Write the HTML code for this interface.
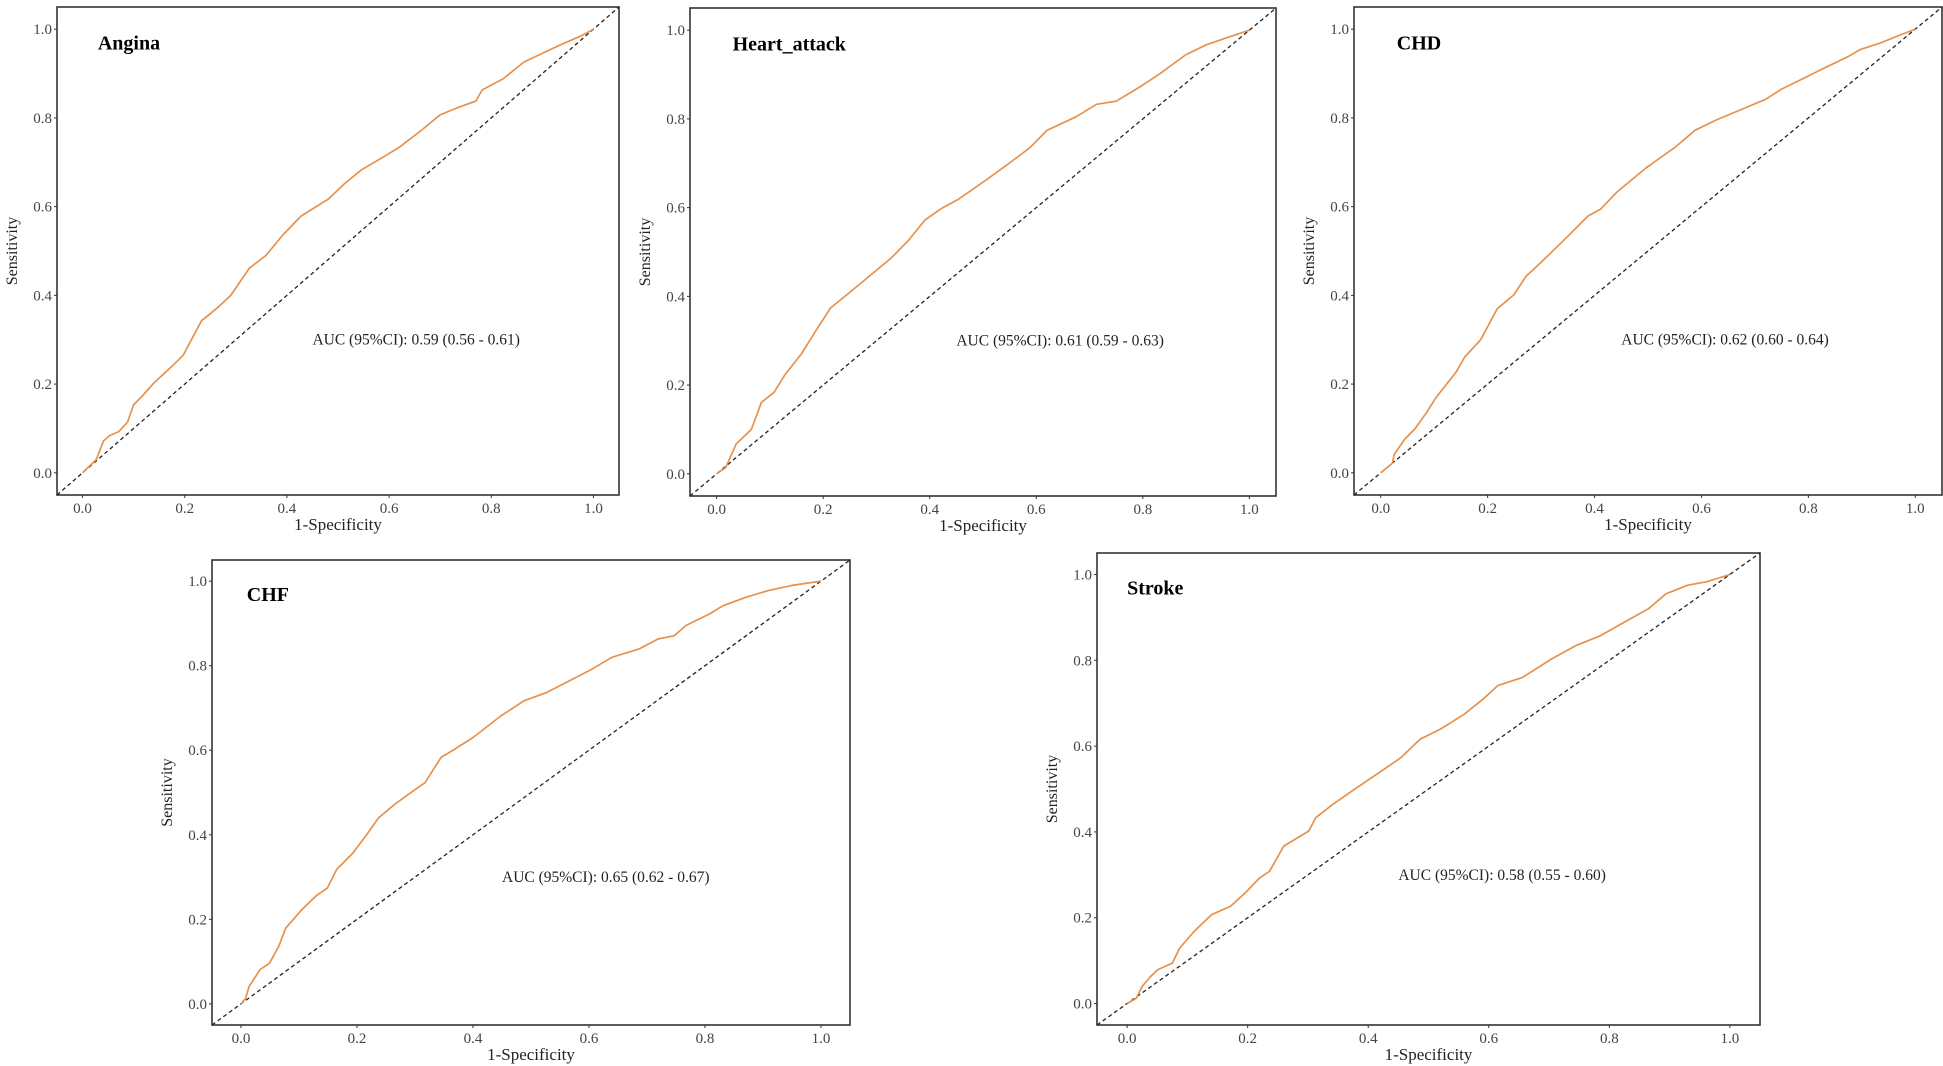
<!DOCTYPE html>
<html><head><meta charset="utf-8">
<style>
html,body{margin:0;padding:0;background:#fff;}
svg{display:block;}
text{font-family:"Liberation Serif",serif;}
</style></head>
<body>
<svg id="fig" width="1943" height="1066" viewBox="0 0 1943 1066" xmlns="http://www.w3.org/2000/svg"></svg>
<script>
// ---- data arrays ----
const anginaFpr = [0,0.027,0.041,0.053,0.071,0.088,0.1,0.116,0.14,0.173,0.197,0.213,0.233,0.262,0.29,0.327,0.359,0.392,0.428,0.481,0.513,0.546,0.586,0.619,0.659,0.7,0.732,0.77,0.782,0.823,0.864,0.895,0.936,0.976,1];
const anginaTpr = [0,0.03,0.072,0.084,0.093,0.114,0.153,0.172,0.203,0.238,0.265,0.3,0.343,0.37,0.4,0.462,0.49,0.536,0.579,0.617,0.652,0.683,0.71,0.733,0.768,0.807,0.822,0.838,0.863,0.888,0.926,0.943,0.965,0.985,1];
const heartFpr = [0,0.017,0.037,0.065,0.084,0.108,0.128,0.159,0.187,0.214,0.25,0.289,0.328,0.36,0.391,0.423,0.454,0.509,0.549,0.588,0.62,0.675,0.713,0.75,0.793,0.832,0.88,0.919,0.958,1];
const heartTpr = [0,0.014,0.068,0.1,0.161,0.184,0.223,0.27,0.324,0.374,0.409,0.448,0.487,0.526,0.572,0.599,0.619,0.665,0.7,0.735,0.774,0.805,0.833,0.84,0.871,0.902,0.944,0.967,0.983,1];
const chdFpr = [0,0.022,0.025,0.045,0.064,0.087,0.103,0.141,0.157,0.187,0.218,0.249,0.272,0.303,0.349,0.388,0.411,0.442,0.496,0.55,0.588,0.627,0.673,0.72,0.75,0.789,0.827,0.874,0.897,0.935,0.974,1];
const chdTpr = [0,0.022,0.041,0.076,0.099,0.138,0.169,0.227,0.261,0.3,0.37,0.401,0.443,0.478,0.532,0.579,0.594,0.633,0.687,0.733,0.772,0.795,0.818,0.842,0.865,0.888,0.911,0.938,0.954,0.969,0.988,1];
const chfFpr = [0,0.008,0.014,0.033,0.049,0.065,0.077,0.105,0.129,0.149,0.165,0.193,0.217,0.237,0.265,0.297,0.317,0.345,0.368,0.4,0.448,0.488,0.528,0.56,0.6,0.64,0.687,0.719,0.747,0.767,0.807,0.831,0.871,0.91,0.95,1];
const chfTpr = [0,0.013,0.041,0.081,0.096,0.136,0.179,0.223,0.255,0.274,0.318,0.357,0.401,0.44,0.472,0.504,0.523,0.583,0.602,0.63,0.681,0.717,0.737,0.76,0.788,0.82,0.84,0.863,0.871,0.895,0.922,0.942,0.962,0.978,0.99,1];
const strokeFpr = [0,0.015,0.025,0.039,0.051,0.075,0.087,0.111,0.14,0.172,0.196,0.22,0.236,0.26,0.301,0.313,0.341,0.381,0.422,0.454,0.486,0.519,0.559,0.591,0.615,0.656,0.704,0.744,0.785,0.825,0.865,0.894,0.93,0.962,1];
const strokeTpr = [0,0.012,0.04,0.063,0.079,0.094,0.129,0.168,0.207,0.227,0.258,0.293,0.308,0.367,0.402,0.433,0.464,0.503,0.542,0.573,0.616,0.639,0.674,0.71,0.741,0.76,0.803,0.834,0.857,0.889,0.92,0.955,0.975,0.983,1];
const panelTitles = ["Angina","Heart_attack","CHD","CHF","Stroke"];
const aucLabels = ["AUC (95%CI): 0.59 (0.56 - 0.61)","AUC (95%CI): 0.61 (0.59 - 0.63)","AUC (95%CI): 0.62 (0.60 - 0.64)","AUC (95%CI): 0.65 (0.62 - 0.67)","AUC (95%CI): 0.58 (0.55 - 0.60)"];
const tickValues = [0,0.2,0.4,0.6,0.8,1.0];
const tickLabels = ["0.0","0.2","0.4","0.6","0.8","1.0"];

const NS = "http://www.w3.org/2000/svg";
const svg = document.getElementById('fig');
function mk(tag, attrs, parent){
  const e = document.createElementNS(NS, tag);
  for (const k in attrs) e.setAttribute(k, attrs[k]);
  (parent||svg).appendChild(e);
  return e;
}
// layout (frame boxes)
const frames = [
  {l:57,r:619,t:7,b:495, tx:0.03, ty:0.97},
  {l:690,r:1276,t:8,b:496, tx:0.03, ty:0.97},
  {l:1354,r:1942,t:7,b:495, tx:0.03, ty:0.97},
  {l:212,r:850,t:560,b:1025, tx:0.01, ty:0.97},
  {l:1097,r:1760,t:553,b:1025, tx:0.0, ty:0.97}
];
const series = [[anginaFpr,anginaTpr],[heartFpr,heartTpr],[chdFpr,chdTpr],[chfFpr,chfTpr],[strokeFpr,strokeTpr]];
const slugs = ["angina","heart-attack","chd","chf","stroke"];

frames.forEach((f,i)=>{
  const g = mk('g',{});
  
  
  const sx = v => f.l + (v + 0.05) / 1.1 * (f.r - f.l);
  const sy = v => f.b - (v + 0.05) / 1.1 * (f.b - f.t);
  // frame
  const fr = mk('rect',{x:f.l,y:f.t,width:f.r-f.l,height:f.b-f.t,fill:'none',stroke:'#333',"stroke-width":1.6},g);
  
  
  // diagonal
  const dg = mk('line',{x1:sx(-0.05),y1:sy(-0.05),x2:sx(1.05),y2:sy(1.05),stroke:'#222',"stroke-width":1.3,"stroke-dasharray":"4 3"},g);
  
  
  // ticks
  tickValues.forEach((v,k)=>{
    mk('line',{x1:sx(v),y1:f.b,x2:sx(v),y2:f.b+3,stroke:'#333',"stroke-width":1},g);
    mk('line',{x1:f.l-3,y1:sy(v),x2:f.l,y2:sy(v),stroke:'#333',"stroke-width":1},g);
    const xt = mk('text',{x:sx(v),y:f.b+18,"text-anchor":"middle","font-size":15,fill:'#444'},g);
    xt.textContent = tickLabels[k];
    
    
    const yt = mk('text',{x:f.l-5,y:sy(v)+5,"text-anchor":"end","font-size":15,fill:'#444'},g);
    yt.textContent = tickLabels[k];
    
    
  });
  const xl = mk('text',{x:(f.l+f.r)/2,y:f.b+35,"text-anchor":"middle","font-size":17,fill:'#222'},g);
  xl.textContent = '1-Specificity';
  
  
  const yx = f.l - 40, yy = (f.t+f.b)/2;
  const yl = mk('text',{x:yx,y:yy,"text-anchor":"middle","font-size":16,fill:'#222',transform:`rotate(-90 ${yx} ${yy})`},g);
  yl.textContent = 'Sensitivity';
  
  
  // curve
  const [fx, ty] = series[i];
  const d = fx.map((x,k)=>(k?'L':'M')+sx(x).toFixed(1)+','+sy(ty[k]).toFixed(1)).join(' ');
  const p = mk('path',{d:d,fill:'none',stroke:'#E8914A',"stroke-width":1.7,"stroke-linejoin":"round"},g);
  
  
  // title
  const tt = mk('text',{x:sx(f.tx),y:sy(f.ty)+7,"font-size":20,"font-weight":"bold",fill:'#000'},g);
  tt.textContent = panelTitles[i];
  
  
  // auc
  const at = mk('text',{x:sx(0.45),y:sy(0.30)+5,"font-size":15.5,fill:'#222'},g);
  at.textContent = aucLabels[i];
  
  
});
</script>
</body></html>
